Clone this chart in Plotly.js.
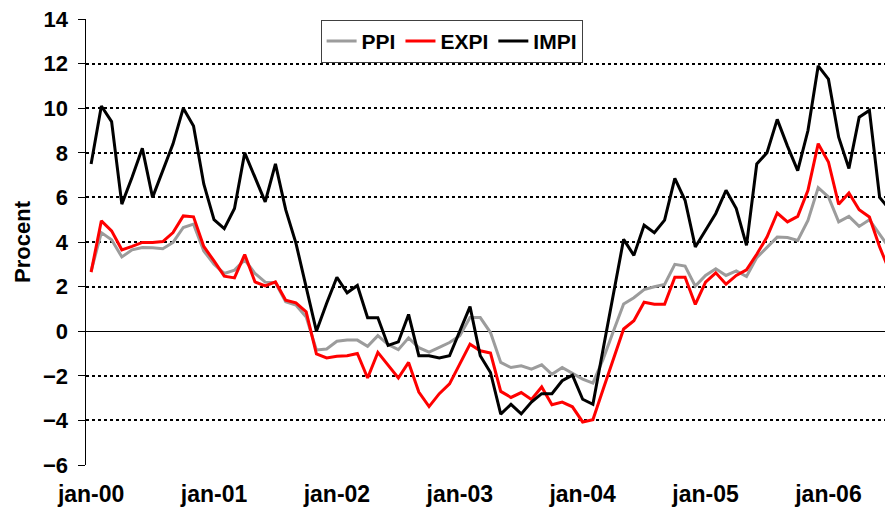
<!DOCTYPE html>
<html>
<head>
<meta charset="utf-8">
<script src="https://cdn.plot.ly/plotly-3.0.1.min.js"></script>
<style>
html,body{margin:0;padding:0;overflow:hidden;background:#ffffff;}
#chart{width:900px;height:514px;}
</style>
</head>
<body>
<div id="chart"></div>
<script>
// Category labels
const monthNames = ['jan','feb','mar','apr','maj','jun','jul','aug','sep','okt','nov','dec'];
const years = ['00','01','02','03','04','05','06'];
const nPoints = 79; // jan-00 .. jul-06 (last point partly outside the cropped picture)

const months = [];
for (const y of years) for (const m of monthNames) months.push(m + '-' + y);
months.length = nPoints;

// Series values (percent)
const ppi = [
  2.7, 4.42, 4.1, 3.33, 3.65, 3.75, 3.74, 3.7, 3.98, 4.65, 4.8, 3.6,
  3.0, 2.59, 2.74, 3.2, 2.59, 2.2, 2.17, 1.32, 1.17, 0.64, -0.84, -0.8,
  -0.45, -0.4, -0.4, -0.68, -0.2, -0.6, -0.83, -0.3, -0.74, -0.94, -0.73, -0.51,
  -0.2, 0.61, 0.61, -0.06, -1.4, -1.63, -1.55, -1.7, -1.51, -1.93, -1.63, -1.9,
  -2.15, -2.33, -1.25, 0.0, 1.22, 1.5, 1.87, 1.99, 2.1, 3.0, 2.92, 2.02,
  2.5, 2.8, 2.5, 2.7, 2.45, 3.3, 3.78, 4.22, 4.2, 4.07, 4.97, 6.44,
  6.02, 4.9, 5.15, 4.7, 5.0, 4.37, 3.7
];
const expi = [
  2.65, 4.95, 4.5, 3.65, 3.8, 3.98, 3.98, 4.02, 4.42, 5.17, 5.13, 3.8,
  3.15, 2.47, 2.39, 3.44, 2.21, 2.03, 2.21, 1.39, 1.27, 0.87, -1.02, -1.2,
  -1.12, -1.1, -1.0, -2.1, -0.95, -1.55, -2.1, -1.4, -2.73, -3.38, -2.8, -2.36,
  -1.46, -0.58, -0.88, -0.98, -2.7, -2.97, -2.75, -3.06, -2.5, -3.3, -3.18, -3.39,
  -4.07, -3.97, -2.6, -1.3, 0.1, 0.47, 1.3, 1.21, 1.21, 2.42, 2.42, 1.2,
  2.2, 2.62, 2.11, 2.5, 2.75, 3.45, 4.22, 5.3, 4.9, 5.15, 6.32, 8.41,
  7.59, 5.69, 6.2, 5.45, 5.12, 3.78, 2.65
];
const impi = [
  7.5, 10.1, 9.4, 5.7, 6.9, 8.2, 6.0, 7.2, 8.4, 10.0, 9.2, 6.6,
  5.0, 4.6, 5.5, 8.0, 6.9, 5.8, 7.5, 5.45, 3.95, 1.9, 0.0, 1.25,
  2.42, 1.72, 2.05, 0.6, 0.6, -0.64, -0.48, 0.75, -1.1, -1.1, -1.2, -1.1,
  0.0, 1.1, -1.1, -1.85, -3.72, -3.28, -3.71, -3.18, -2.8, -2.8, -2.22, -1.97,
  -3.05, -3.28, -0.8, 1.7, 4.12, 3.4, 4.75, 4.42, 4.98, 6.85, 5.87, 3.78,
  4.53, 5.28, 6.32, 5.5, 3.85, 7.5, 8.0, 9.5, 8.3, 7.2, 9.0, 11.9,
  11.3, 8.7, 7.3, 9.6, 9.9, 6.0, 5.45
];

// Tick labels
const yTicks = [-6, -4, -2, 0, 2, 4, 6, 8, 10, 12, 14];
const xLabels = months.filter(m => m.startsWith('jan'));
const minorTicks = [];
for (let k = 5.5; k < nPoints; k += 6) minorTicks.push(k);

const boldFont = (s) => ({family: '"Liberation Sans", Arial, sans-serif', size: s, color: '#000000', weight: 'bold'});

const traces = [
  {x: months, y: ppi, name: 'PPI', type: 'scatter', mode: 'lines',
   line: {color: '#9c9c9c', width: 3}},
  {x: months, y: expi, name: 'EXPI', type: 'scatter', mode: 'lines',
   line: {color: '#ff0000', width: 3}},
  {x: months, y: impi, name: 'IMPI', type: 'scatter', mode: 'lines',
   line: {color: '#000000', width: 3}}
];

const layout = {
  width: 900, height: 514,
  margin: {l: 86, r: 5, t: 19, b: 49},
  paper_bgcolor: '#ffffff', plot_bgcolor: '#ffffff',
  showlegend: true,
  legend: {
    orientation: 'h', x: 0.29, y: 0.998, xanchor: 'left', yanchor: 'top',
    font: boldFont(21), bgcolor: '#ffffff', bordercolor: '#404040', borderwidth: 1,
    itemwidth: 30, tracegroupgap: 0
  },
  xaxis: {
    type: 'category', categoryorder: 'array', categoryarray: months,
    range: [-0.5, nPoints - 0.5],
    tickmode: 'array', tickvals: xLabels, ticktext: xLabels,
    ticks: '', showgrid: false, showline: false, zeroline: false,
    tickfont: boldFont(23), ticklabelstandoff: 13, fixedrange: true
  },
  xaxis2: {
    overlaying: 'x', anchor: 'free', position: 0.3, type: 'linear',
    range: [-0.5, nPoints - 0.5],
    tickmode: 'array', tickvals: minorTicks,
    ticks: 'outside', ticklen: 7, tickwidth: 1, tickcolor: '#000000',
    showticklabels: false, showgrid: false, showline: false, zeroline: false
  },
  yaxis: {
    range: [-6, 14], tickmode: 'array', tickvals: yTicks,
    ticks: 'outside', ticklen: 7, tickwidth: 1, tickcolor: '#000000',
    showline: true, linecolor: '#000000', linewidth: 1.5,
    showgrid: true, gridcolor: '#000000', gridwidth: 2, griddash: '3px,3px',
    zeroline: true, zerolinecolor: '#000000', zerolinewidth: 1,
    tickfont: boldFont(22), ticklabelstandoff: 5,
    title: {text: 'Procent', font: boldFont(22), standoff: 6},
    fixedrange: true
  }
};

Plotly.newPlot('chart', traces, layout, {displayModeBar: false, staticPlot: true});
</script>
</body>
</html>
